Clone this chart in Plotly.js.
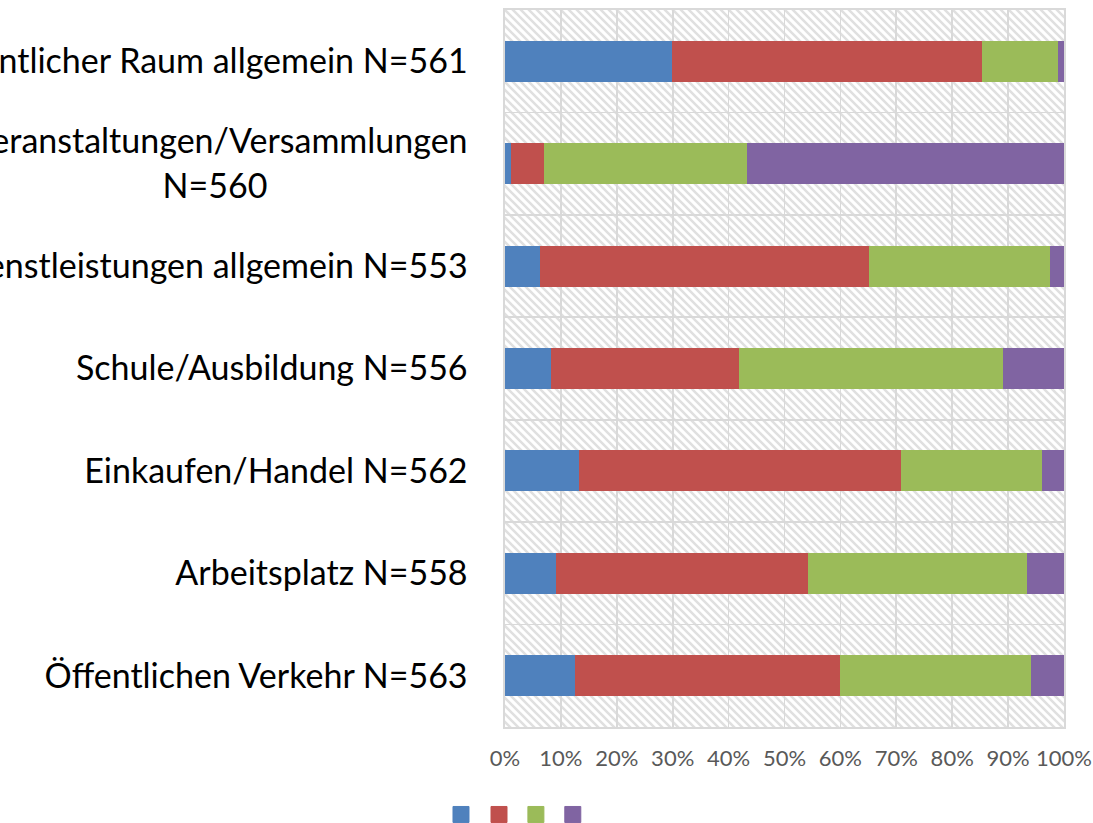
<!DOCTYPE html>
<html>
<head>
<meta charset="utf-8">
<script src="https://cdn.plot.ly/plotly-3.0.1.min.js"></script>
<style>html,body{margin:0;padding:0;background:#fff;}#chart{width:1093px;height:823px;}</style>
</head>
<body>
<div id="chart"></div>
<script>
// Categories (top to bottom)
const categories = [
  "Öffentlicher Raum allgemein N=561",
  "Veranstaltungen/Versammlungen<br>N=560" + "\u00a0".repeat(23),
  "Dienstleistungen allgemein N=553",
  "Schule/Ausbildung N=556",
  "Einkaufen/Handel N=562",
  "Arbeitsplatz N=558",
  "Öffentlichen Verkehr N=563"
];
// Shares in percent, one array per series
const series1 = [29.9, 1.0, 6.2, 8.2, 13.2, 9.1, 12.5];
const series2 = [55.4, 5.9, 59.0, 33.6, 57.7, 45.1, 47.4];
const series3 = [13.6, 36.4, 32.3, 47.3, 25.2, 39.2, 34.2];
const series4 = [1.1, 56.7, 2.5, 10.9, 3.9, 6.6, 5.9];
const seriesColors = ["#4f81bd", "#c0504d", "#9bbb59", "#8064a2"];
const tickVals = [0,10,20,30,40,50,60,70,80,90,100];
const tickText = ["0%","10%","20%","30%","40%","50%","60%","70%","80%","90%","100%"];

const allSeries = [series1, series2, series3, series4];
const traces = allSeries.map((vals, i) => ({
  type: "bar", orientation: "h",
  x: vals, y: categories,
  marker: {color: seriesColors[i], line: {width: 0}},
  showlegend: false, hoverinfo: "x+y"
}));
// legend-only entries (the reference legend shows coloured squares without text)
const legendKeys = ["legend", "legend2", "legend3", "legend4"];
seriesColors.forEach((c, i) => {
  traces.push({
    type: "scatter", mode: "markers", x: [null], y: [null], name: " ",
    marker: {symbol: "square", size: 16, color: c, line: {width: 1, color: c}},
    showlegend: true, legend: legendKeys[i], hoverinfo: "skip"
  });
});

const W = 559, H = 717;
const hatch = '<svg xmlns="http://www.w3.org/2000/svg" width="' + W + '" height="' + H + '" viewBox="0 0 ' + W + ' ' + H + '" preserveAspectRatio="none">' +
  '<defs><pattern id="p" patternUnits="userSpaceOnUse" width="8" height="8">' +
  '<path d="M-2,6 l4,4 M0,0 l8,8 M6,-2 l4,4" stroke="#e0e0e0" stroke-width="2.6"/></pattern></defs>' +
  '<rect width="' + W + '" height="' + H + '" fill="#fff"/><rect width="' + W + '" height="' + H + '" fill="url(#p)"/></svg>';
const hatchURI = "data:image/svg+xml;base64," + btoa(hatch);

const legendXs = [-0.1145, -0.0465, 0.0195, 0.0855];
const legendBase = {orientation: "h", yanchor: "middle", y: -0.122, xanchor: "left",
  font: {size: 10, color: "rgba(0,0,0,0)"}, bgcolor: "rgba(0,0,0,0)", itemclick: false, itemdoubleclick: false};
const layout = {
  width: 1093, height: 823,
  margin: {l: 505, r: 29, t: 10, b: 96, autoexpand: false},
  paper_bgcolor: "#fff", plot_bgcolor: "rgba(0,0,0,0)",
  font: {family: "Lato, 'Open Sans', sans-serif", color: "#000"},
  barmode: "stack", bargap: 0.6,
  xaxis: {
    range: [0, 100], tickvals: tickVals, ticktext: tickText,
    showgrid: true, gridcolor: "#d9d9d9", gridwidth: 1.6,
    showline: true, linecolor: "#d9d9d9", linewidth: 1.6, mirror: true,
    zeroline: false, ticks: "", ticklabelstandoff: 11,
    tickfont: {size: 22, color: "#595959"}, fixedrange: true, automargin: false
  },
  yaxis: {
    type: "category", categoryorder: "array", categoryarray: categories, autorange: "reversed",
    tickson: "boundaries", showgrid: true, gridcolor: "#d9d9d9", gridwidth: 1.6,
    showline: true, linecolor: "#d9d9d9", linewidth: 1.6, mirror: true,
    zeroline: false, ticks: "", ticklabelstandoff: 29,
    tickfont: {size: 34, color: "#000"}, fixedrange: true, automargin: false
  },
  images: [{source: hatchURI, xref: "paper", yref: "paper", x: 0, y: 1, sizex: 1, sizey: 1,
    sizing: "stretch", xanchor: "left", yanchor: "top", layer: "below"}],
  legend: Object.assign({}, legendBase, {x: legendXs[0]}),
  legend2: Object.assign({}, legendBase, {x: legendXs[1]}),
  legend3: Object.assign({}, legendBase, {x: legendXs[2]}),
  legend4: Object.assign({}, legendBase, {x: legendXs[3]})
};
Plotly.newPlot("chart", traces, layout, {displayModeBar: false, staticPlot: true});
</script>
</body>
</html>
